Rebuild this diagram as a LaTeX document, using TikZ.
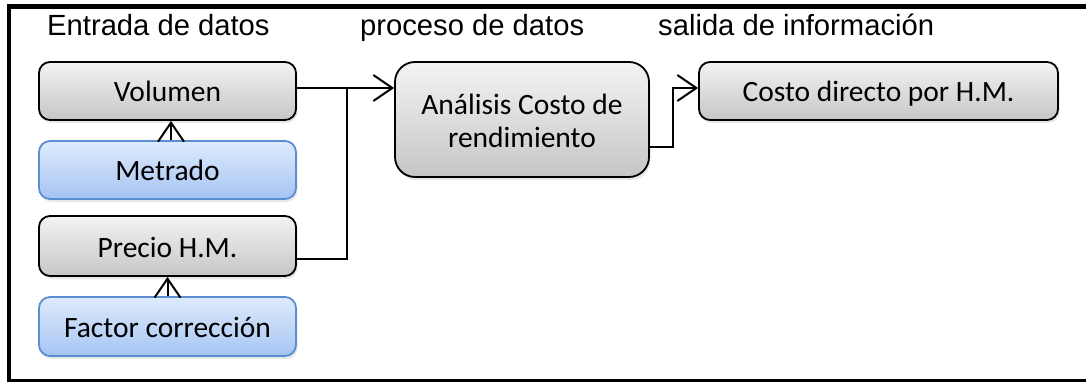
\documentclass[tikz,border=0pt]{standalone}
\usepackage{fontspec}
\setmainfont{Carlito}
\newfontfamily\hdfont{Liberation Sans}
\usetikzlibrary{arrows.meta,shadows}
\definecolor{gtop}{HTML}{F3F3F3}
\definecolor{gbot}{HTML}{C6C6C6}
\definecolor{btop}{HTML}{DFEBFC}
\definecolor{bbot}{HTML}{A5C4F3}
\definecolor{bdraw}{HTML}{5B8ED1}
\tikzset{
  boxbase/.style={line width=1.8pt, rounded corners=11pt, inner sep=0pt,
    drop shadow={shadow xshift=1.5pt, shadow yshift=-3pt, opacity=0.18},
    font=\fontsize{29.5}{33}\selectfont, align=center},
  graybox/.style={boxbase, draw=black, top color=gtop, bottom color=gbot},
  bluebox/.style={boxbase, draw=bdraw, top color=btop, bottom color=bbot},
  oneline/.style={text height=27pt, text depth=5pt},
  header/.style={anchor=base west, inner sep=0pt, font=\hdfont\fontsize{29.2}{34}\selectfont},
  conn/.style={line width=2pt, draw=black},
  arr/.style={conn, -{Straight Barb[length=19pt,width=26pt,line width=2pt]}}
}
\begin{document}
\begin{tikzpicture}[x=1pt,y=-1pt]
\useasboundingbox (0,0) rectangle (1086,382);
\clip (0,0) rectangle (1086,382);
\fill[white] (0,0) rectangle (1086,382);
\draw[line width=4.5pt] (9,6.5) rectangle (1100,381.5);

\node[header] (h1) at (47,36) {Entrada de datos};
\node[header] (h2) at (360,36) {proceso de datos};
\node[header] (h3) at (658,36) {salida de información};

\node[graybox, oneline, minimum width=257pt, minimum height=58pt] (vol) at (167.5,91) {Volumen};
\node[bluebox, oneline, minimum width=257pt, minimum height=58pt] (met) at (167.5,170) {Metrado};
\node[graybox, oneline, minimum width=257pt, minimum height=60pt] (pre) at (167.5,246) {Precio H.M.};
\node[bluebox, oneline, minimum width=257pt, minimum height=59pt] (fac) at (167.5,326.5) {Factor corrección};
\node[graybox, minimum width=254pt, minimum height=115pt, rounded corners=20pt] (ana) at (522,119.5) {\rule{0pt}{24pt}Análisis Costo de\\rendimiento};
\node[graybox, oneline, minimum width=359pt, minimum height=58pt] (cos) at (878.5,91) {Costo directo por H.M.};

\coordinate (j1) at (347,88);
\coordinate (j2) at (347,259);
\coordinate (j3) at (673,147);
\coordinate (j4) at (673,88);

\draw[arr] (vol.east |- j1) -- (ana.west |- j1);
\draw[conn] (pre.east |- j2) -- (j2) -- (j1);
\draw[arr] (ana.east |- j3) -- (j3) -- (j4) -- (cos.west |- j4);
\draw[arr] ([xshift=3.5pt]met.north) -- ([xshift=3.5pt]vol.south);
\draw[arr] (fac.north) -- (pre.south);
\end{tikzpicture}
\end{document}
